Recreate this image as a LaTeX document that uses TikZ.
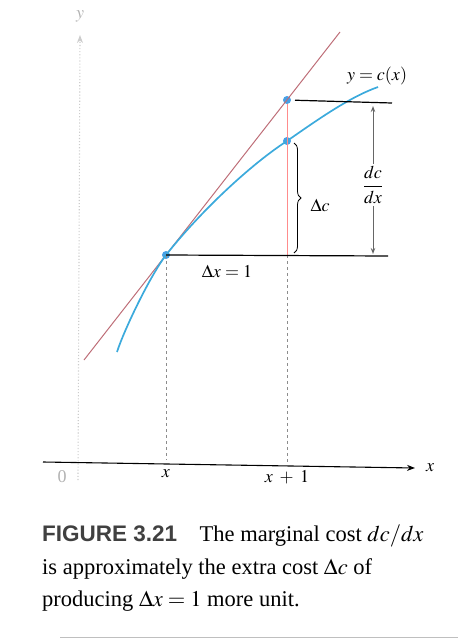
\documentclass[tikz,border=0pt]{standalone}
\usepackage{amsmath}
\usepackage{mathptmx}
\usepackage{fontspec}
\setmainfont{Liberation Serif}
\setsansfont{Liberation Sans}
\usepackage{xcolor}
\usepackage{tikz}
\usetikzlibrary{arrows.meta,positioning,decorations.pathreplacing}
\definecolor{curveblue}{RGB}{60,170,220}
\definecolor{dotblue}{RGB}{70,160,230}
\definecolor{tanred}{RGB}{190,110,120}
\tikzset{
  lbl/.style={font=\fontsize{18}{20}\selectfont, inner sep=1pt},
  faint/.style={lbl, text=black!30},
  ptdot/.style={circle, fill=dotblue, inner sep=0pt, minimum size=8pt},
  axisline/.style={-{Stealth[length=8pt,width=6pt]}, line width=1.1pt},
  guide/.style={black!45, dashed, dash pattern=on 3pt off 3pt, thick},
  level/.style={black, line width=1.2pt},
  dblarrw/.style={{Stealth[length=6pt,open]}-{Stealth[length=6pt,open]}, black!60, thick},
  costcurve/.style={curveblue, line width=1.7pt},
}

\begin{document}
\begin{tikzpicture}[x=1pt,y=-1pt]
  \useasboundingbox (0,0) rectangle (458,642);

  % axes
  \coordinate (ybot) at (78,480);
  \coordinate (ytop) at (80,35);
  \draw[axisline, black!20, dotted] (ybot) -- (ytop);
  \node[faint] (ylab) at (80,16) {$y$};
  \coordinate (xleft) at (43,462);
  \coordinate (xright) at (415,468);
  \draw[axisline] (xleft) -- (xright);
  \node[lbl, right=10pt of xright] (xlab) {$x$};
  \node[faint] (zero) at (62,477) {0};

  % points
  \node[ptdot] (A) at (166,255) {};
  \node[ptdot] (Q) at (287,100) {};
  \node[ptdot] (R) at (287,141) {};
  \coordinate (xfoot) at (166,460);
  \coordinate (xpfoot) at (287,462);
  \coordinate (xpmid) at (287,255);

  % tangent line and cost curve
  \coordinate (tanlo) at (84,360);
  \coordinate (tanhi) at (340,32);
  \draw[tanred, line width=1pt] (tanlo) -- (tanhi);
  \draw[costcurve] (117,352) .. controls (124,330) and (150,276) .. (A.center)
    .. controls (200,212) and (250,165) .. (R.center)
    .. controls (320,118) and (350,97) .. (378,87);

  % guides
  \draw[guide] (A.center) -- (xfoot);
  \draw[guide] (xpmid) -- (xpfoot);
  \draw[red!45, thick] (Q) -- (xpmid);
  \coordinate (toplvl) at (392,103);
  \coordinate (botlvl) at (388,256);
  \draw[level, shorten <=8pt] (Q.center) -- (toplvl);
  \draw[level] (A.center) -- (botlvl);

  % delta c brace and dc/dx arrow
  \draw[thick, decorate, decoration={brace, mirror, amplitude=7pt}]
    (294,253) -- (294,143);
  \node[lbl] (dc) at (320,205) {$\Delta c$};
  \coordinate (arrtop) at (373,106);
  \coordinate (arrbot) at (373,254);
  \draw[dblarrw] (arrtop) -- (arrbot);
  \node[lbl, fill=white, inner sep=2pt] (dcdx) at (373,185) {$\dfrac{dc}{dx}$};

  \node[lbl] (curvelab) at (377,76) {$y = c(x)$};
  \node[lbl] (dxlab) at (227,271) {$\Delta x = 1$};
  \node[lbl, below=8pt of xfoot] (xtick) {$x$};
  \node[lbl, below=7pt of xpfoot] (xptick) {$x\;+\;1$};

  % caption
  \node[anchor=north west, align=left, inner sep=0pt,
        font=\fontsize{22.5}{32.5}\selectfont] (cap) at (42,525)
    {{\sffamily\bfseries\color{black!75}FIGURE 3.21}\quad The marginal cost $dc/dx$\\
     is approximately the extra cost $\Delta c$ of\\
     producing $\Delta x = 1$ more unit.};
  \coordinate (rulel) at (60,637);
  \coordinate (ruler) at (458,637);
  \draw[black!25, thick] (rulel) -- (ruler);
\end{tikzpicture}
\end{document}
